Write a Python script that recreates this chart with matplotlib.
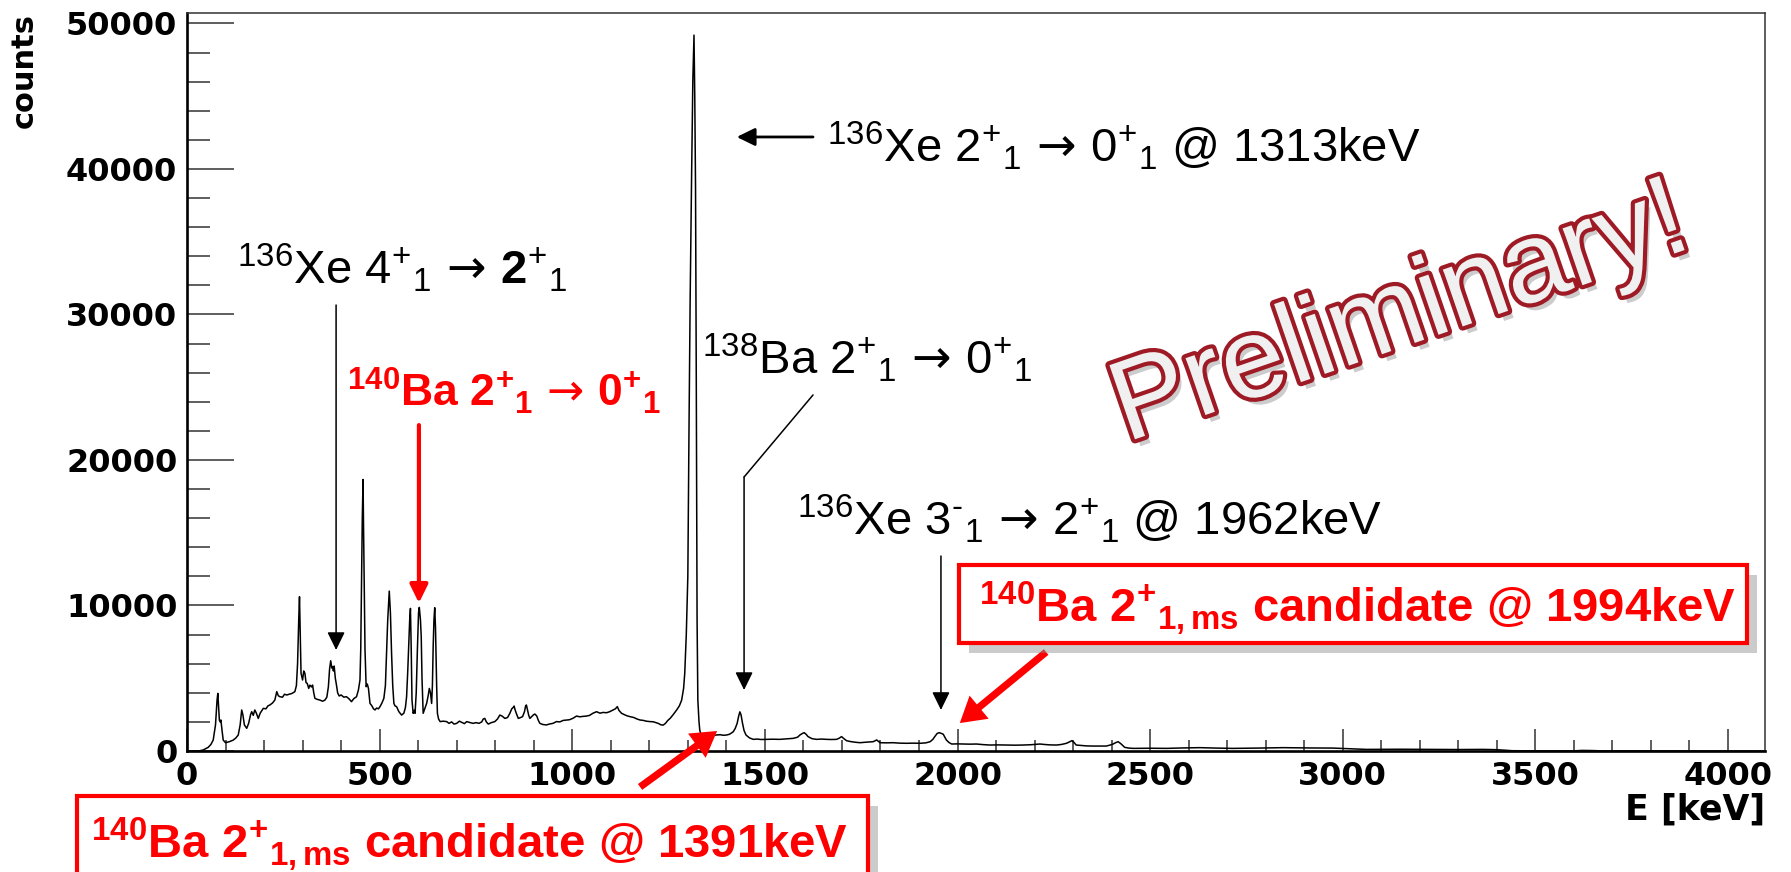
import matplotlib
matplotlib.use("Agg")
import matplotlib.pyplot as plt
import matplotlib.patheffects as pe
from matplotlib.patches import Rectangle
from matplotlib.ticker import MultipleLocator

plt.rcParams['font.family'] = ['Liberation Sans', 'DejaVu Sans']
plt.rcParams['mathtext.fontset'] = 'custom'
plt.rcParams['mathtext.rm'] = 'Liberation Sans'
plt.rcParams['mathtext.it'] = 'Liberation Sans:italic'
plt.rcParams['mathtext.bf'] = 'Liberation Sans:bold'
plt.rcParams['mathtext.sf'] = 'DejaVu Sans'

# gamma spectrum: energy (keV) and counts
energy = [
    0, 30, 42, 55, 62, 68, 74, 78, 80, 82, 84, 86, 88, 91, 94, 100, 110, 120,
    127, 133, 138, 142, 145, 149, 155, 160, 165, 168, 172, 176, 180, 185, 190,
    198, 205, 210, 215, 222, 228, 233, 237, 241, 248, 253, 259, 265, 272, 280,
    284, 287, 290, 292, 294, 296, 300, 303, 306, 309, 312, 316, 319, 323, 326,
    329, 332, 338, 345, 352, 358, 363, 367, 370, 373, 376, 378, 380, 382, 385,
    388, 391, 395, 400, 407, 414, 420, 427, 433, 440, 445, 449, 451, 453, 455,
    457, 458, 460, 462, 465, 468, 471, 473, 475, 480, 484, 488, 492, 497, 501,
    506, 511, 515, 518, 521, 525, 528, 531, 534, 537, 540, 544, 550, 557, 563,
    567, 570, 573, 575, 578, 580, 582, 584, 587, 590, 592, 595, 598, 601, 603,
    606, 608, 610, 613, 617, 622, 626, 629, 632, 635, 637, 639, 641, 643, 645,
    646, 648, 650, 653, 657, 665, 674, 680, 687, 693, 700, 707, 715, 720, 726,
    735, 743, 750, 758, 765, 769, 773, 777, 782, 790, 799, 806, 812, 818, 825,
    832, 838, 843, 847, 849, 852, 856, 860, 866, 871, 876, 879, 881, 884, 887,
    890, 896, 900, 903, 908, 912, 916, 924, 933, 940, 950, 959, 968, 976, 985,
    993, 1002, 1011, 1020, 1028, 1037, 1045, 1054, 1063, 1072, 1080, 1089,
    1097, 1106, 1112, 1117, 1121, 1128, 1135, 1142, 1150, 1160, 1168, 1176,
    1185, 1192, 1202, 1210, 1217, 1223, 1230, 1236, 1242, 1248, 1254, 1262,
    1271, 1278, 1284, 1289, 1292, 1296, 1300, 1303, 1306, 1310, 1313, 1316,
    1318, 1320, 1322, 1324, 1326, 1329, 1331, 1335, 1342, 1349, 1358, 1366,
    1375, 1384, 1392, 1401, 1408, 1414, 1418, 1423, 1428, 1432, 1435, 1438,
    1442, 1446, 1451, 1460, 1470, 1480, 1490, 1505, 1520, 1539, 1555, 1574,
    1585, 1591, 1597, 1602, 1607, 1612, 1622, 1634, 1647, 1660, 1673, 1686,
    1693, 1699, 1705, 1712, 1722, 1735, 1747, 1760, 1772, 1781, 1786, 1790,
    1795, 1799, 1815, 1833, 1850, 1868, 1885, 1903, 1918, 1929, 1936, 1941,
    1947, 1952, 1957, 1963, 1967, 1971, 1978, 1985, 2000, 2015, 2032, 2049,
    2066, 2084, 2105, 2127, 2150, 2170, 2190, 2205, 2214, 2225, 2240, 2257,
    2270, 2283, 2292, 2297, 2302, 2308, 2320, 2335, 2352, 2370, 2386, 2395,
    2404, 2411, 2417, 2424, 2434, 2445, 2456, 2500, 2543, 2585, 2629, 2672,
    2715, 2780, 2845, 2910, 2975, 3020, 3061, 3150, 3234, 3300, 3364, 3400,
    3416, 3440, 3500, 3600, 3620, 3650, 3670, 3800, 3900, 4000, 4096,
]
counts = [
    0, 0, 70, 250, 450, 750, 1800, 3500, 3960, 3000, 2130, 2000, 2130, 1400,
    750, 570, 640, 750, 900, 1100, 1800, 2820, 2500, 1790, 1560, 1900, 2500,
    2700, 2450, 2820, 2600, 2240, 2600, 2930, 2900, 3100, 3160, 3300, 3500,
    4080, 3800, 3730, 3700, 3900, 3850, 3900, 3950, 4080, 4500, 6000, 9000,
    10600, 8000, 5340, 4880, 5500, 5340, 4700, 4650, 4300, 4530, 4400, 4530,
    4000, 3620, 3550, 3500, 3420, 3500, 3700, 4420, 5600, 6200, 5700, 5800,
    5500, 5840, 5000, 4530, 4000, 3780, 3850, 3700, 3730, 3600, 3390, 3600,
    3730, 4200, 4880, 7000, 11500, 16000, 18660, 16000, 11500, 7000, 4420,
    4600, 4300, 3800, 3270, 3100, 2900, 2820, 2950, 2900, 3050, 3300, 3620,
    4500, 6710, 9000, 10990, 9500, 6710, 4500, 3270, 3100, 3050, 2700, 2470,
    2600, 3000, 3730, 5500, 6940, 9000, 9800, 7000, 3500, 2590, 2800, 2590,
    4000, 6940, 9500, 9870, 9000, 7850, 5000, 2590, 2900, 3270, 3800, 4300,
    4000, 3270, 4500, 7170, 9000, 9850, 8500, 7170, 4500, 2590, 2200, 2020,
    2050, 2020, 1900, 2000, 1850, 1900, 2050, 1950, 1880, 2020, 1950, 1900,
    1950, 1900, 2000, 2200, 2240, 2000, 1850, 1950, 2020, 2200, 2470, 2400,
    2240, 2300, 2590, 2900, 3000, 3090, 2800, 2500, 2240, 2300, 2360, 2700,
    3100, 3160, 2800, 2450, 2240, 2400, 2500, 2540, 2400, 2100, 1900, 1820,
    1790, 1850, 1900, 2020, 2000, 2100, 2130, 2150, 2250, 2400, 2350, 2380,
    2400, 2450, 2600, 2700, 2600, 2650, 2630, 2700, 2820, 2900, 3050, 2800,
    2590, 2500, 2420, 2360, 2300, 2200, 2130, 2100, 2050, 2020, 2010, 1950,
    1900, 1800, 1780, 1900, 2100, 2240, 2500, 2820, 3100, 3500, 4300, 5340,
    8000, 12000, 22000, 31000, 40000, 46100, 49200, 45000, 38700, 25000, 9000,
    3500, 2000, 1440, 1000, 980, 990, 1050, 1080, 1100, 1120, 1080, 1100,
    1150, 1250, 1330, 1550, 1900, 2400, 2690, 2500, 1900, 1400, 1100, 900,
    800, 820, 790, 800, 810, 800, 830, 870, 950, 1100, 1200, 1260, 1150, 990,
    850, 800, 820, 800, 790, 800, 880, 990, 850, 710, 650, 600, 570, 600, 620,
    640, 700, 760, 650, 570, 560, 570, 540, 530, 540, 530, 560, 640, 800, 990,
    1200, 1260, 1220, 1150, 950, 760, 580, 480, 490, 480, 470, 480, 440, 410,
    420, 410, 400, 410, 430, 460, 480, 450, 420, 410, 450, 530, 650, 710, 600,
    410, 380, 350, 340, 340, 340, 400, 480, 580, 640, 500, 250, 200, 180, 190,
    180, 210, 230, 200, 180, 200, 230, 210, 200, 150, 110, 120, 110, 100, 110,
    90, 60, 20, 10, 10, 40, 30, 10, 5, 5, 0, 0,
]

x_range = (0, 4096)
y_range = (0, 50720)
x_major = 500
x_minor = 100
y_major = 10000
y_minor = 2000

W, H = 1791, 872
ARROW = r'$\,\mathsf{\rightarrow}\,$'


def fig_xy(px, py):
    # reference pixel -> figure fraction
    return px / W, 1 - py / H


fig = plt.figure(figsize=(W / 100, H / 100), dpi=100)
ax = fig.add_axes([187 / W, 1 - 751 / H, 1578 / W, 738 / H])

# spectrum
ax.plot(energy, counts, color='black', lw=1.1)

ax.set_xlim(*x_range)
ax.set_ylim(*y_range)
ax.xaxis.set_major_locator(MultipleLocator(x_major))
ax.xaxis.set_minor_locator(MultipleLocator(x_minor))
ax.yaxis.set_major_locator(MultipleLocator(y_major))
ax.yaxis.set_minor_locator(MultipleLocator(y_minor))

ax.tick_params(axis='both', which='both', direction='in', color='#333333',
               width=1.1, labelsize=23, pad=7)
ax.tick_params(axis='y', which='major', length=34)
ax.tick_params(axis='y', which='minor', length=16.5)
ax.tick_params(axis='x', which='major', length=16)
ax.tick_params(axis='x', which='minor', length=8)
for lbl in ax.get_xticklabels() + ax.get_yticklabels():
    lbl.set_family('DejaVu Sans')
    lbl.set_fontweight('bold')

for side in ['left', 'bottom']:
    ax.spines[side].set_linewidth(1.9)
for side in ['top', 'right']:
    ax.spines[side].set_linewidth(1.1)
    ax.spines[side].set_color('#333333')

fig.text(*fig_xy(24, 13), 'counts', rotation=90, ha='center', va='top',
         family='DejaVu Sans', fontweight='bold', fontsize=22)
fig.text(*fig_xy(1765, 793), 'E [keV]', ha='right', va='top',
         family='DejaVu Sans', fontweight='bold', fontsize=25)

# black labels and arrows
black_arrow = dict(arrowstyle='-|>,head_length=0.55,head_width=0.27',
                   mutation_scale=20, color='black', lw=1.1,
                   shrinkA=0, shrinkB=0)

ax.annotate('', xy=(1427, 42200), xytext=(1625, 42200),
            arrowprops=dict(black_arrow, lw=2.0))
ax.text(1661, 40480,
        r'$^{136}$Xe $2^{+}{}_{1}$' + ARROW + r'$0^{+}{}_{1}$ @ 1313keV',
        fontsize=34, va='baseline', ha='left')

ax.text(130, 32100,
        r'$^{136}$Xe $4^{+}{}_{1}$' + ARROW + r'$\mathbf{2}^{+}{}_{1}$',
        fontsize=34, va='baseline', ha='left')
ax.annotate('', xy=(387, 6940), xytext=(387, 30650), arrowprops=black_arrow)

ax.text(1337, 25910,
        r'$^{138}$Ba $2^{+}{}_{1}$' + ARROW + r'$0^{+}{}_{1}$',
        fontsize=34, va='baseline', ha='left')
ax.annotate('', xy=(1446, 18830), xytext=(1625, 24470),
            arrowprops=dict(arrowstyle='-', color='black', lw=1.1,
                            shrinkA=0, shrinkB=0))
ax.annotate('', xy=(1446, 4190), xytext=(1446, 18830), arrowprops=black_arrow)

ax.text(1583, 14850,
        '$^{136}$Xe $3^{\u2010}{}_{1}$' + ARROW + r'$2^{+}{}_{1}$ @ 1962keV',
        fontsize=34, va='baseline', ha='left')
ax.annotate('', xy=(1957, 2820), xytext=(1957, 13400), arrowprops=black_arrow)

# red label 140Ba
ax.text(415, 23710,
        r'$^{\mathbf{140}}$Ba $\mathbf{2^{+}{}_{1}}$' + ARROW
        + r'$\mathbf{0^{+}{}_{1}}$',
        fontsize=32, fontweight='bold', color='red', va='baseline', ha='left')
ax.annotate('', xy=(602, 10170), xytext=(602, 22400),
            arrowprops=dict(arrowstyle='-|>,head_length=0.55,head_width=0.27',
                            mutation_scale=20, color='red', lw=3,
                            shrinkA=0, shrinkB=0))

# red candidate boxes
box_fx = [pe.SimplePatchShadow(offset=(7, -7), shadow_rgbFace='0.55',
                               alpha=0.45), pe.Normal()]
fig.add_artist(Rectangle(fig_xy(959, 643), 788 / W, 78 / H,
                         transform=fig.transFigure, fc='white', ec='red',
                         lw=3, path_effects=box_fx))
fig.text(*fig_xy(979, 622),
         r'$^{\mathbf{140}}$Ba $\mathbf{2^{+}{}_{1,ms}}$ candidate @ 1994keV',
         fontsize=34, fontweight='bold', color='red', va='baseline', ha='left')

fig.add_artist(Rectangle(fig_xy(77, 890), 791 / W, 94 / H,
                         transform=fig.transFigure, fc='white', ec='red',
                         lw=3, path_effects=box_fx))
fig.text(*fig_xy(91, 858),
         r'$^{\mathbf{140}}$Ba $\mathbf{2^{+}{}_{1,ms}}$ candidate @ 1391keV',
         fontsize=34, fontweight='bold', color='red', va='baseline', ha='left')

red_arrow = dict(arrowstyle='simple,head_length=0.45,head_width=0.54,'
                            'tail_width=0.13',
                 mutation_scale=40, fc='red', ec='none',
                 shrinkA=0, shrinkB=0)
ax.annotate('', xy=(2006, 1920), xytext=(2230, 6800), arrowprops=red_arrow,
            annotation_clip=False)
ax.annotate('', xy=(1376, 1375), xytext=(1176, -2470), arrowprops=red_arrow,
            annotation_clip=False)

# watermark
fig.text(*fig_xy(1401, 317), 'Preliminary!', rotation=19, fontsize=82,
         ha='center', va='center', color='#f0f0f0',
         path_effects=[pe.SimplePatchShadow(offset=(4, -5),
                                            shadow_rgbFace='0.5', alpha=0.4),
                       pe.Stroke(linewidth=6, foreground='#9e1b26'),
                       pe.Normal()])

fig.savefig('out.png', dpi=100)
